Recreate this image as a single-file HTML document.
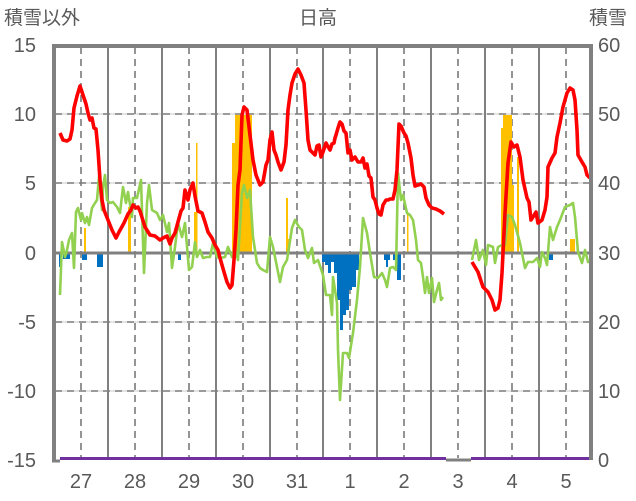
<!DOCTYPE html>
<html><head><meta charset="utf-8"><style>
html,body{margin:0;padding:0;background:#fff;}
svg{display:block;font-family:"Liberation Sans","Noto Sans CJK JP",sans-serif;}
</style></head><body>
<svg width="636" height="501" viewBox="0 0 636 501" xmlns="http://www.w3.org/2000/svg">
<rect width="636" height="501" fill="#fff"/>
<g fill="#595959" font-size="19">
<text x="4" y="24">積雪以外</text>
<text x="299" y="24">日高</text>
<text x="589" y="24">積雪</text>
</g>
<g fill="#595959" font-size="20" text-anchor="end">
<text x="36" y="52">15</text><text x="36" y="121">10</text><text x="36" y="190">5</text>
<text x="36" y="260">0</text><text x="36" y="329">-5</text><text x="36" y="398">-10</text><text x="36" y="467">-15</text>
</g>
<g fill="#595959" font-size="20">
<text x="598" y="52">60</text><text x="598" y="121">50</text><text x="598" y="190">40</text>
<text x="598" y="260">30</text><text x="598" y="329">20</text><text x="598" y="398">10</text><text x="598" y="467">0</text>
</g>
<g fill="#595959" font-size="20" text-anchor="middle">
<text x="81" y="488">27</text><text x="135" y="488">28</text><text x="189" y="488">29</text><text x="243" y="488">30</text><text x="297" y="488">31</text>
<text x="350" y="488">1</text><text x="404" y="488">2</text><text x="458" y="488">3</text><text x="512" y="488">4</text><text x="566" y="488">5</text>
</g>
<g stroke="#c8c8c8" stroke-width="1">
<line x1="55" y1="114" x2="592" y2="114"/><line x1="55" y1="183" x2="592" y2="183"/>
<line x1="55" y1="322" x2="592" y2="322"/><line x1="55" y1="391" x2="592" y2="391"/>
</g>
<g stroke="#7a7a7a" stroke-width="1.6" stroke-dasharray="7,5">
<line x1="55" y1="114" x2="592" y2="114"/><line x1="55" y1="183" x2="592" y2="183"/>
<line x1="55" y1="322" x2="592" y2="322"/><line x1="55" y1="391" x2="592" y2="391"/>
<line x1="81" y1="47" x2="81" y2="458"/><line x1="135" y1="47" x2="135" y2="458"/><line x1="189" y1="47" x2="189" y2="458"/><line x1="243" y1="47" x2="243" y2="458"/><line x1="297" y1="47" x2="297" y2="458"/><line x1="350" y1="47" x2="350" y2="458"/><line x1="404" y1="47" x2="404" y2="458"/><line x1="458" y1="47" x2="458" y2="458"/><line x1="512" y1="47" x2="512" y2="458"/><line x1="566" y1="47" x2="566" y2="458"/>
</g>
<g stroke="#808080" stroke-width="2">
<line x1="108" y1="47" x2="108" y2="458"/><line x1="162" y1="47" x2="162" y2="458"/><line x1="216" y1="47" x2="216" y2="458"/><line x1="270" y1="47" x2="270" y2="458"/><line x1="323" y1="47" x2="323" y2="458"/><line x1="377" y1="47" x2="377" y2="458"/><line x1="431" y1="47" x2="431" y2="458"/><line x1="485" y1="47" x2="485" y2="458"/><line x1="539" y1="47" x2="539" y2="458"/>
</g>
<g fill="#FFC000">
<rect x="84" y="228" width="2" height="25"/><rect x="128" y="207" width="3" height="46"/>
<rect x="194" y="212" width="3" height="41"/><rect x="196" y="143" width="1.5" height="110"/>
<rect x="232" y="143" width="3" height="110"/><rect x="235" y="115" width="17" height="138"/>
<rect x="286" y="198" width="2" height="55"/><rect x="288" y="239" width="2" height="14"/>
<rect x="407" y="213" width="1.5" height="40"/>
<rect x="501" y="128" width="2" height="125"/><rect x="503" y="115" width="9" height="138"/><rect x="512" y="185" width="2" height="68"/><rect x="517" y="157" width="2" height="96"/>
<rect x="570" y="239" width="5" height="14"/>
</g>
<g fill="#0070C0">
<rect x="59" y="253" width="2" height="14"/><rect x="63" y="253" width="7" height="6"/><rect x="82" y="253" width="5" height="7"/><rect x="97" y="253" width="6" height="14"/><rect x="178" y="253" width="3" height="7"/>
<rect x="322" y="253" width="3" height="9"/><rect x="325" y="253" width="3" height="12"/><rect x="328" y="253" width="3" height="20"/><rect x="331" y="253" width="3" height="9"/><rect x="334" y="253" width="3" height="20"/><rect x="337" y="253" width="3" height="47"/><rect x="340" y="253" width="3" height="77"/><rect x="343" y="253" width="3" height="62"/><rect x="346" y="253" width="3" height="57"/><rect x="349" y="253" width="3" height="37"/><rect x="352" y="253" width="4" height="34"/><rect x="356" y="253" width="3" height="17"/>
<rect x="384" y="253" width="6" height="7"/><rect x="386" y="253" width="2" height="14"/><rect x="393" y="253" width="2" height="7"/><rect x="397" y="253" width="4" height="27"/>
<rect x="549" y="253" width="4" height="7"/>
</g>
<line x1="55" y1="253" x2="592" y2="253" stroke="#808080" stroke-width="3"/>
<line x1="60" y1="458.5" x2="446" y2="458.5" stroke="#7030A0" stroke-width="3"/>
<line x1="471" y1="458.5" x2="590" y2="458.5" stroke="#7030A0" stroke-width="3"/>
<g fill="none" stroke="#92D050" stroke-width="2.6" stroke-linejoin="round">
<polyline points="60,295 62,242 65,257 67,250 69,240 72,233 74,268 76,212 78,208 81,220 82,213 85,223 87,217 89,225 92,208 95,203 97,200 99,177 102,210 103,187 105,175 107,200 110,203 113,202 117,207 120,213 123,187 126,203 128,192 132,217 133,198 137,198 141,180 144,273 147,203 149,185 152,210 157,213 160,220 163,215 167,232 169,223 172,268 175,247 178,223 182,237 185,223 189,270 192,267 195,242 197,257 200,250 203,258 207,257 210,257 213,243 217,257 220,258 225,257 228,247 232,257 235,247 238,260 242,193 244,185 247,198 250,190 253,237 257,263 260,268 263,270 267,272 270,237 273,247 277,267 280,282 283,267 287,260 292,228 295,220 299,227 302,230 305,250 308,258 312,248 314,263 318,260 323,275 326,295 330,295 332,315 333,277 337,303 338,350 340,400 343,353 347,353 349,358 353,333 357,300 360,267 363,218 367,233 370,253 374,277 378,278 382,273 385,280 387,287 390,268 393,267 396,270 398,173 401,200 403,195 407,213 410,215 413,220 416,240 418,260 421,263 423,277 425,293 427,277 429,293 432,278 434,302 437,290 439,283 441,300 443,297"/>
<polyline points="472,260 476,240 479,260 483,250 486,265 488,245 493,247 495,263 498,247 502,245 505,245 508,215 512,217 515,225 520,243 525,268 528,262 533,262 537,258 540,267 542,252 545,258 547,265 550,227 553,240 557,227 560,220 565,207 570,205 573,203 575,217 578,252 582,263 585,250 588,262 590,262"/>
</g>
<g fill="none" stroke="#FF0000" stroke-width="3.6" stroke-linejoin="round">
<polyline points="60,133 63,140 67,141 70,139 72,130 74,108 77,96 80,86 83,95 86,104 88,113 90,120 92,118 94,128 96,129 98,150 100,180 102,200 104,210 108,220 112,230 116,238 119,232 124,223 128,214 131,210 133,205 136,208 138,207 140,211 145,227 150,235 155,236 160,240 163,238 167,236 170,244 172,238 175,233 178,222 181,211 183,208 185,190 188,200 190,190 193,183 195,196 198,211 202,213 205,222 208,232 210,235 212,238 215,245 218,250 220,258 224,272 227,282 230,288 232,285 234,260 236,230 238,185 240,170 242,115 244,107 247,110 250,135 253,160 256,175 260,185 263,182 266,165 268,160 270,140 272,132 274,150 276,155 278,162 281,170 284,162 286,145 288,110 290,95 292,83 295,74 298,69 301,75 304,83 306,110 308,140 310,150 313,153 315,155 317,146 319,145 321,157 323,152 326,143 330,150 332,144 334,143 335,138 336,135 338,128 340,122 342,124 344,131 346,133 348,153 350,150 352,160 355,157 358,162 361,162 363,158 365,168 367,164 369,176 371,178 373,197 375,200 377,208 379,214 381,215 383,205 386,200 388,200 390,199 393,199 395,190 397,170 399,124 401,126 404,133 406,136 408,143 411,158 413,175 415,186 418,185 421,184 424,187 426,198 429,205 432,208 436,209 440,211 444,214"/>
<polyline points="472,262 478,272 483,287 488,292 492,300 495,310 498,308 500,300 502,273 505,213 508,163 511,142 514,147 517,145 520,157 523,180 527,198 529,202 531,220 533,217 536,212 538,223 542,220 545,210 547,197 548,167 552,158 555,153 557,137 560,123 563,107 567,93 570,88 573,90 575,100 577,130 578,155 582,162 585,167 587,175 590,178"/>
</g>
<path d="M54,460 L54,46 L591,46 L591,460" fill="none" stroke="#808080" stroke-width="4"/>
<line x1="446" y1="460" x2="471" y2="460" stroke="#808080" stroke-width="3"/>
<line x1="52" y1="461" x2="60" y2="461" stroke="#808080" stroke-width="3"/>
</svg>
</body></html>
